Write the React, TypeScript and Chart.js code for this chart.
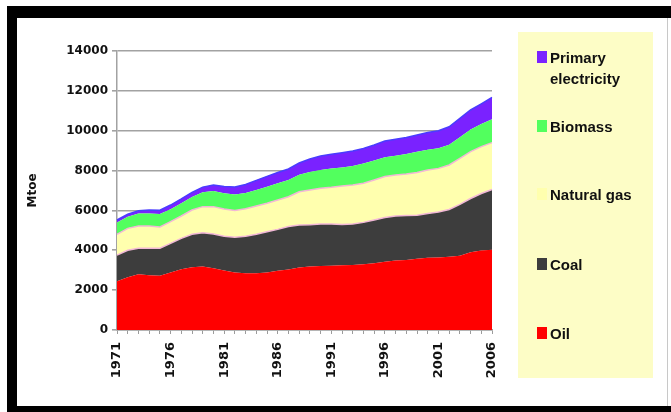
import React, { useEffect, useRef } from 'react';
import { Chart, registerables } from 'chart.js';

Chart.register(...registerables);

const years = [
  '1971', '1972', '1973', '1974', '1975', '1976', '1977', '1978', '1979', '1980',
  '1981', '1982', '1983', '1984', '1985', '1986', '1987', '1988', '1989', '1990',
  '1991', '1992', '1993', '1994', '1995', '1996', '1997', '1998', '1999', '2000',
  '2001', '2002', '2003', '2004', '2005', '2006',
];

const oil = [
  2450, 2650, 2800, 2750, 2720, 2890, 3050, 3150, 3190, 3100,
  2990, 2890, 2850, 2850, 2880, 2970, 3040, 3130, 3190, 3210,
  3230, 3250, 3260, 3300, 3350, 3430, 3490, 3510, 3570, 3620,
  3640, 3680, 3720, 3900, 3990, 4030,
];

const coal = [
  1310, 1350, 1300, 1350, 1380, 1460, 1550, 1650, 1690, 1720,
  1710, 1760, 1850, 1950, 2050, 2080, 2150, 2140, 2090, 2110,
  2090, 2050, 2060, 2100, 2170, 2220, 2230, 2230, 2190, 2230,
  2280, 2370, 2580, 2700, 2860, 3020,
];

const naturalGas = [
  1040, 1100, 1120, 1120, 1070, 1090, 1120, 1220, 1310, 1370,
  1370, 1350, 1380, 1420, 1430, 1470, 1500, 1670, 1750, 1790,
  1840, 1930, 1960, 1960, 2010, 2050, 2060, 2090, 2140, 2180,
  2190, 2230, 2310, 2350, 2350, 2350,
];

const biomass = [
  600, 580, 620, 630, 650, 620, 640, 650, 720, 790,
  790, 800, 800, 810, 830, 840, 840, 850, 900, 920,
  940, 930, 950, 990, 980, 970, 960, 1000, 1040, 1010,
  1010, 1010, 1060, 1110, 1140, 1170,
];

const primaryElectricity = [
  120, 130, 150, 170, 190, 210, 220, 240, 260, 290,
  340, 380, 420, 480, 520, 540, 550, 590, 650, 700,
  720, 740, 750, 760, 770, 810, 830, 830, 840, 870,
  880, 910, 950, 980, 1010, 1100,
];

const yTicks = [0, 2000, 4000, 6000, 8000, 10000, 12000, 14000];

const COLORS = {
  oil: '#ff0000',
  coal: '#3d3d3d',
  gas: '#ffffae',
  biomass: '#52ff5e',
  primary: '#7a22ff',
  pink: '#f2b8d6',
};

const legendItems = [
  { label: ['Primary', 'electricity'], color: COLORS.primary, center: 57 },
  { label: ['Biomass'], color: COLORS.biomass, center: 126 },
  { label: ['Natural gas'], color: COLORS.gas, center: 194 },
  { label: ['Coal'], color: COLORS.coal, center: 264 },
  { label: ['Oil'], color: COLORS.oil, center: 333 },
];

export default function App() {
  const ref = useRef<HTMLCanvasElement>(null);

  useEffect(() => {
    if (!ref.current) return;
    const tickFont = { family: 'DejaVu Sans', weight: 'bold' as const, size: 12 };
    const chart = new Chart(ref.current, {
      type: 'line',
      data: {
        labels: years,
        datasets: [
          {
            label: 'Oil',
            data: oil,
            backgroundColor: COLORS.oil,
            borderColor: COLORS.oil,
            borderWidth: 0,
            fill: 'origin',
          },
          {
            label: 'Coal',
            data: coal,
            backgroundColor: COLORS.coal,
            borderColor: COLORS.pink,
            borderWidth: 1.5,
            fill: '-1',
          },
          {
            label: 'Natural gas',
            data: naturalGas,
            backgroundColor: COLORS.gas,
            borderColor: COLORS.pink,
            borderWidth: 1.5,
            fill: '-1',
          },
          {
            label: 'Biomass',
            data: biomass,
            backgroundColor: COLORS.biomass,
            borderColor: COLORS.biomass,
            borderWidth: 0,
            fill: '-1',
          },
          {
            label: 'Primary electricity',
            data: primaryElectricity,
            backgroundColor: COLORS.primary,
            borderColor: '#4a3cff',
            borderWidth: 1.5,
            fill: '-1',
          },
        ],
      },
      options: {
        responsive: true,
        maintainAspectRatio: false,
        animation: false,
        layout: { padding: { left: 20, top: 51, right: 179, bottom: 0 } },
        elements: { line: { tension: 0 }, point: { radius: 0, hoverRadius: 0 } },
        plugins: { legend: { display: false }, tooltip: { enabled: false } },
        scales: {
          x: {
            type: 'category',
            offset: false,
            afterFit: (scale: any) => { scale.height = 82; },
            grid: {
              drawOnChartArea: false,
              drawTicks: true,
              tickLength: 4,
              color: '#9c9c9c',
              lineWidth: 1,
            },
            border: { display: true, color: '#9c9c9c', width: 1.5 },
            ticks: {
              autoSkip: false,
              maxRotation: 90,
              minRotation: 90,
              padding: 8,
              color: '#111',
              font: { family: 'DejaVu Sans', weight: 'bold', size: 13 },
              callback: (_v: any, index: number) => (index % 5 === 0 ? years[index] : ''),
            },
          },
          y: {
            stacked: true,
            min: 0,
            max: 14000,
            afterFit: (scale: any) => { scale.width = 97; },
            afterBuildTicks: (scale: any) => {
              scale.ticks = yTicks.map((v) => ({ value: v }));
            },
            grid: {
              drawOnChartArea: true,
              drawTicks: true,
              tickLength: 5,
              color: '#a2a2a2',
              lineWidth: 1.6,
            },
            border: { display: true, color: '#a2a2a2', width: 1.5 },
            ticks: {
              padding: 4,
              color: '#111',
              font: tickFont,
              callback: (v: any) => String(v),
            },
            title: {
              display: true,
              text: 'Mtoe',
              color: '#111',
              font: { family: 'DejaVu Sans', weight: 'bold', size: 12 },
              padding: { top: 6, bottom: 0 },
            },
          },
        },
      },
    });
    return () => chart.destroy();
  }, []);

  return (
    <div style={{ position: 'fixed', left: 0, top: 0, width: 671, height: 412, background: '#fff', overflow: 'hidden' }}>
      <div style={{ position: 'absolute', left: 7, top: 6, width: 664, height: 406, background: '#000' }} />
      <div style={{ position: 'absolute', left: 17, top: 18, width: 654, height: 388, background: '#fff' }} />
      <div style={{ position: 'absolute', left: 667, top: 18, width: 1, height: 388, background: '#c8c8c8' }} />
      <div style={{ position: 'absolute', left: 518, top: 32, width: 135, height: 346, background: '#fdfdc6' }} />
      <div style={{ position: 'absolute', left: 0, top: 0, width: 671, height: 412 }}>
        <canvas ref={ref} />
      </div>
      {legendItems.map((item) => {
        const lineH = 21;
        const h = item.label.length * lineH;
        const firstCenter = item.center;
        return (
          <React.Fragment key={item.label.join(' ')}>
            <div
              style={{
                position: 'absolute',
                left: 537,
                top: firstCenter - 6,
                width: 10,
                height: 12,
                background: item.color,
              }}
            />
            <div
              style={{
                position: 'absolute',
                left: 550,
                top: firstCenter - lineH / 2,
                height: h,
                lineHeight: `${lineH}px`,
                fontFamily: '"Liberation Sans", Arial, sans-serif',
                fontWeight: 'bold',
                fontSize: 15,
                color: '#111',
                whiteSpace: 'nowrap',
              }}
            >
              {item.label.map((l) => (
                <div key={l}>{l}</div>
              ))}
            </div>
          </React.Fragment>
        );
      })}
    </div>
  );
}
